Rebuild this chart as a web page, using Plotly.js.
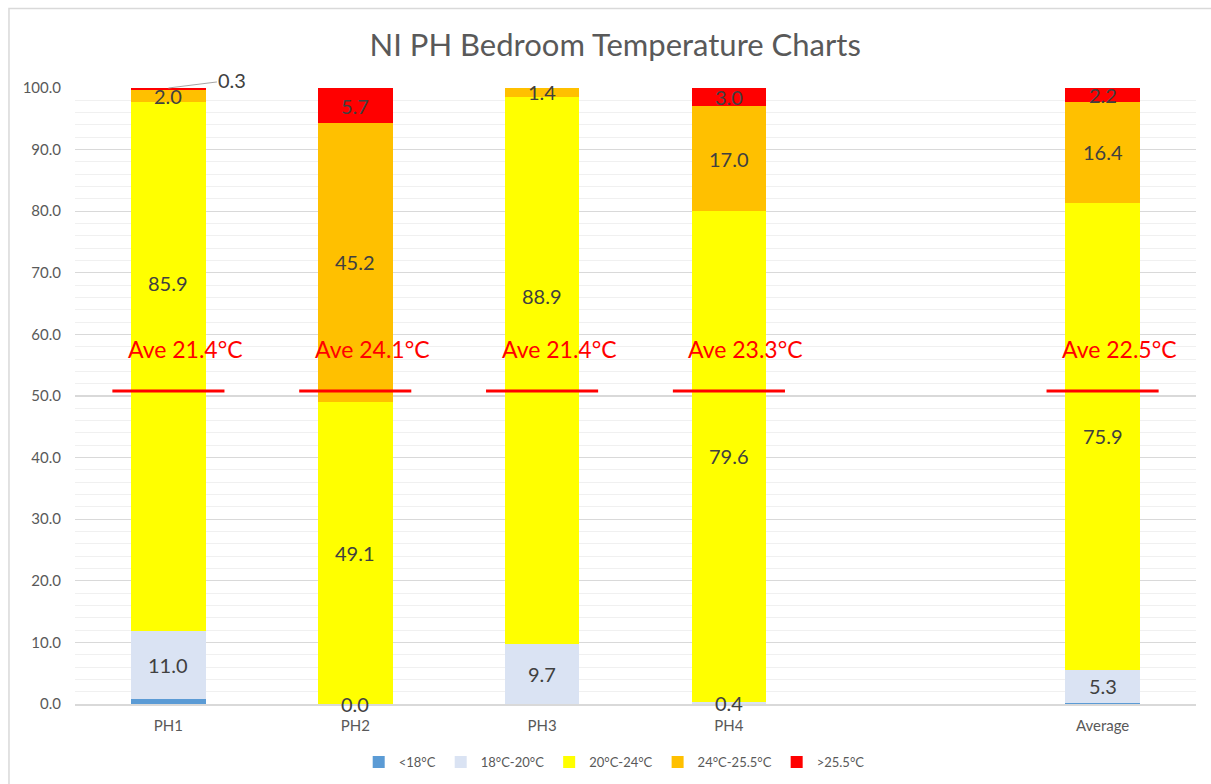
<!DOCTYPE html>
<html>
<head>
<meta charset="utf-8">
<script src="https://cdn.plot.ly/plotly-3.0.1.min.js"></script>
<style>html,body{margin:0;padding:0;background:#fff;}#chart{width:1211px;height:784px;}</style>
</head>
<body>
<div id="chart"></div>
<script>
// ---- data ----
const categories = ['PH1', 'PH2', 'PH3', 'PH4', ' ', 'Average'];
const seriesNames = ['<18°C', '18°C-20°C', '20°C-24°C', '24°C-25.5°C', '>25.5°C'];
const below18    = [0.8, 0.0, 0.0, 0.0, null, 0.2];
const from18to20 = [11.0, 0.0, 9.7, 0.4, null, 5.3];
const from20to24 = [85.9, 49.1, 88.9, 79.6, null, 75.9];
const from24to25 = [2.0, 45.2, 1.4, 17.0, null, 16.4];
const above25    = [0.3, 5.7, 0.0, 3.0, null, 2.2];
const aveTemps   = [21.4, 24.1, 21.4, 23.3, null, 22.5];
const aveLineLevel = 50.8;
const aveTextLevel = 57.6;
const yTickVals = [0, 10, 20, 30, 40, 50, 60, 70, 80, 90, 100];

// ---- styling ----
const colors = ['#5B9BD5', '#DAE3F3', '#FFFF00', '#FFC000', '#FF0000'];
const FONT = 'Lato, "Open Sans", sans-serif';
const labelFont = {family: FONT, size: 20, color: '#404040'};
// label pixel nudges (labels moved by hand in the original to clear the "Ave" text)
const labelShift = {'2-0': 84, '2-2': 74};

function fmt(v) { return (v === null) ? '' : v.toFixed(1); }

const allSeries = [below18, from18to20, from20to24, from24to25, above25];
const traces = allSeries.map((vals, si) => ({
  type: 'bar',
  name: seriesNames[si],
  x: categories,
  y: vals,
  marker: {color: colors[si], line: {width: 0}},
  hoverinfo: 'name+y'
}));

const shapes = [];
const annotations = [];

// data labels, positioned at the middle of each stacked segment
categories.forEach((c, i) => {
  let base = 0;
  allSeries.forEach((vals, si) => {
    const v = vals[i];
    if (v === null) return;
    const mid = base + v / 2;
    base += v;
    if (si === 0) return;                 // <18°C has no labels
    if (si === 4 && v === 0) return;      // empty top segment
    if (si === 4 && i === 0) {            // PH1 top label with leader line
      annotations.push({xref: 'x', yref: 'y', x: c, y: base, text: fmt(v),
        showarrow: true, arrowhead: 0, arrowwidth: 1, arrowcolor: '#A6A6A6', ax: 64, ay: -8,
        font: labelFont});
      return;
    }
    annotations.push({xref: 'x', yref: 'y', x: c, y: mid, text: fmt(v), showarrow: false,
      yshift: labelShift[si + '-' + i] || 0, font: labelFont});
  });
});

// red "average" lines and labels
categories.forEach((c, i) => {
  if (aveTemps[i] === null) return;
  shapes.push({type: 'line', xref: 'x', yref: 'y', x0: i - 0.30, x1: i + 0.30,
    y0: aveLineLevel, y1: aveLineLevel, line: {color: '#FF0000', width: 3}});
  annotations.push({xref: 'x', yref: 'y', x: c, y: aveTextLevel, xshift: 17,
    text: 'Ave ' + aveTemps[i].toFixed(1) + '°C', showarrow: false,
    font: {family: FONT, size: 23, color: '#FF0000'}});
});

// chart border
shapes.push({type: 'rect', xref: 'paper', yref: 'paper', x0: -0.0589, x1: 1.2, y0: -0.3, y1: 1.129,
  line: {color: '#D9D9D9', width: 1.5}, fillcolor: 'rgba(0,0,0,0)', layer: 'below'});

const layout = {
  width: 1211, height: 784,
  margin: {l: 75, r: 15, t: 88, b: 80, autoexpand: false},
  paper_bgcolor: '#fff', plot_bgcolor: '#fff',
  barmode: 'stack',
  bargap: 0.6,
  title: {text: 'NI PH Bedroom Temperature Charts', x: 0.508, xanchor: 'center', y: 0.943, yanchor: 'middle',
    font: {family: FONT, size: 31, color: '#595959'}},
  xaxis: {
    type: 'category', categoryorder: 'array', categoryarray: categories,
    range: [-0.5, 5.5],
    showline: true, linecolor: '#D9D9D9', linewidth: 1.5,
    showgrid: false, ticks: '', ticklabelstandoff: 7,
    tickfont: {family: FONT, size: 15, color: '#595959'}
  },
  yaxis: {
    range: [0, 100], tickvals: yTickVals, tickformat: '.1f',
    showgrid: true, gridcolor: '#D9D9D9', gridwidth: 1.2,
    zeroline: false, showline: false, ticks: '', ticklabelstandoff: 13,
    tickfont: {family: FONT, size: 15, color: '#595959'},
    minor: {dtick: 2, showgrid: true, gridcolor: '#F0F0F0', gridwidth: 1}
  },
  legend: {orientation: 'h', x: 0.481, xanchor: 'center', yref: 'container', y: 0.028, yanchor: 'middle',
    font: {family: FONT, size: 13, color: '#595959'}, traceorder: 'normal', itemwidth: 30},
  shapes: shapes,
  annotations: annotations,
  showlegend: true
};

Plotly.newPlot('chart', traces, layout, {displayModeBar: false, staticPlot: true});
</script>
</body>
</html>
